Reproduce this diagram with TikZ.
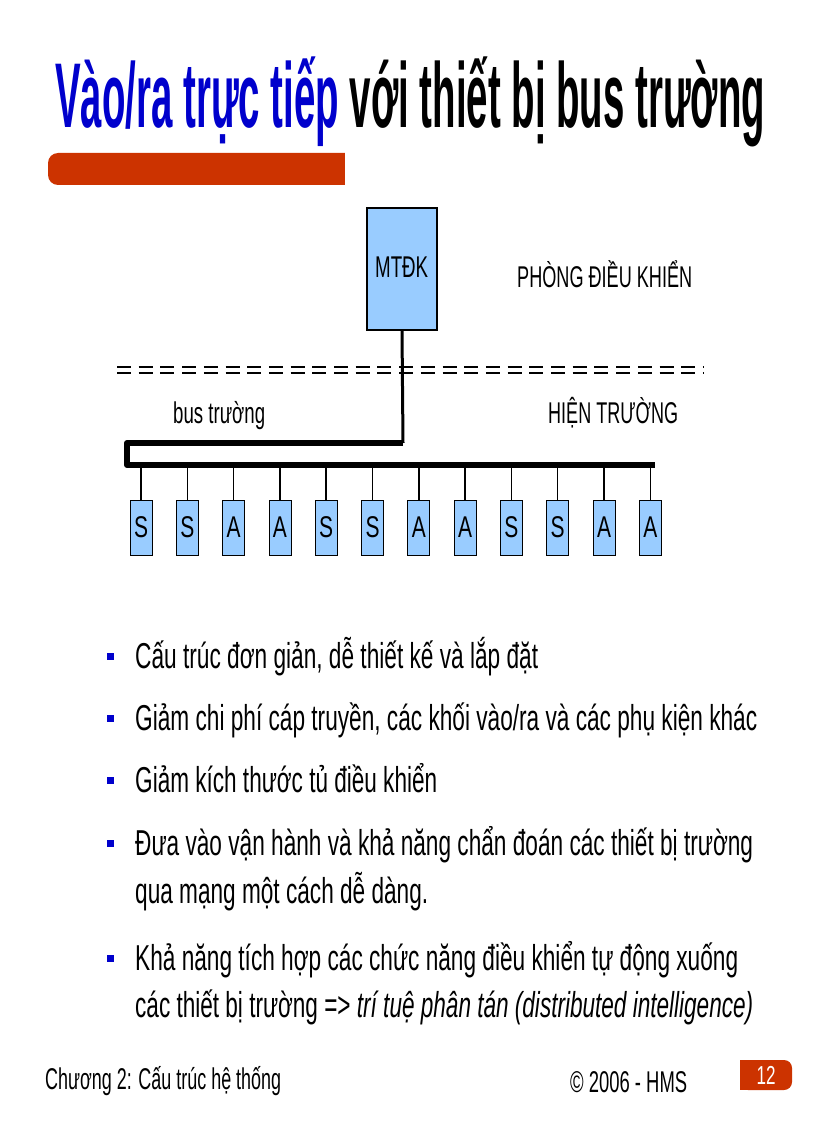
\documentclass[tikz,border=0pt]{standalone}
\usepackage{fontspec}
\setmainfont{Liberation Sans}
\definecolor{tblue}{RGB}{0,0,204}
\definecolor{bred}{RGB}{204,51,0}
\definecolor{lblue}{RGB}{153,204,255}
\newcommand{\fit}[2]{\resizebox{#1}{\height}{#2}}
\begin{document}
\begin{tikzpicture}[x=1pt,y=-1pt,
  lbl/.style={anchor=base west,inner sep=0pt,font=\fontsize{30}{30}\selectfont},
  bl/.style={anchor=base west,inner sep=0pt,font=\fontsize{36}{36}\selectfont},
  dev/.style={draw=black,fill=lblue,line width=0.8pt,minimum width=22pt,minimum height=55pt,inner sep=0pt},
  bul/.style={fill=tblue,minimum size=7pt,inner sep=0pt},
  stem/.style={line width=1.5pt}]
\useasboundingbox (0,0) rectangle (816,1123);
% title
\node[anchor=base west,inner sep=0pt] (title) at (55,128) {\fit{710pt}{\fontsize{92}{92}\selectfont\bfseries\color{tblue}Vào/ra trực tiếp \color{black}với thiết bị bus trường}};
% red bar
\fill[bred,rounded corners=10pt] (48,153) rectangle (360,185);
\fill[white] (345,150) rectangle (365,188);
% MTDK
\node[draw,fill=lblue,line width=1.5pt,minimum width=70pt,minimum height=122pt,inner sep=0pt] (mt) at (402,269) {};
\node[lbl] (mtl) at (375,277) {\fit{53pt}{MTĐK}};
\node[lbl] (p1) at (517,287) {\fit{175pt}{PHÒNG ĐIỀU KHIỂN}};
\node[lbl] (p2) at (173,423) {\fit{92pt}{bus trường}};
\node[lbl] (p3) at (548,423) {\fit{130pt}{HIỆN TRƯỜNG}};
% dashed lines
\draw[line width=2.4pt,dash pattern=on 14pt off 7.7pt] (117,367) -- (703,367);
\draw[line width=2.4pt,dash pattern=on 14pt off 7.7pt] (117,373) -- (703,373);
% bus
\coordinate (c1) at (403,443);
\coordinate (c2) at (127,443);
\coordinate (c3) at (127,465);
\coordinate (c4) at (655,465);
\draw[line width=3pt] (mt.south) -- (c1);
\draw[line width=6pt,line join=round] (c1) -- (c2) -- (c3) -- (c4);
\foreach \t [count=\i from 0] in {S,S,A,A,S,S,A,A,S,S,A,A}{
  \node[dev] (d\i) at (141+46.3*\i,527.5) {};
  \node[anchor=base,inner sep=0pt,font=\fontsize{30}{30}\selectfont] at (141+46.3*\i,537) {\fit{14pt}{\t}};
  \draw[stem] (141+46.3*\i,465) -- (d\i.north);
}
% bullets
\foreach \y [count=\i] in {656,718,780,843,958}{\node[bul] (b\i) at (110,\y) {};}
\node[bl] (t1) at (135,668) {\fit{403pt}{Cấu trúc đơn giản, dễ thiết kế và lắp đặt}};
\node[bl] (t2) at (135,730) {\fit{622pt}{Giảm chi phí cáp truyền, các khối vào/ra và các phụ kiện khác}};
\node[bl] (t3) at (135,792) {\fit{302pt}{Giảm kích thước tủ điều khiển}};
\node[bl] (t4) at (135,855) {\fit{618pt}{Đưa vào vận hành và khả năng chẩn đoán các thiết bị trường}};
\node[bl] (t5) at (135,903) {\fit{293pt}{qua mạng một cách dễ dàng.}};
\node[bl] (t6) at (135,970) {\fit{603pt}{Khả năng tích hợp các chức năng điều khiển tự động xuống}};
\node[bl] (t7) at (135,1017) {\fit{618pt}{các thiết bị trường => \itshape trí tuệ phân tán (distributed intelligence)}};
% footer
\node[lbl] (f1) at (45,1089) {\fit{236pt}{Chương 2: Cấu trúc hệ thống}};
\node[lbl] (f2) at (570,1092) {\fit{117pt}{© 2006 - HMS}};
\fill[bred,rounded corners=8pt] (740,1060) rectangle (792,1090);
\fill[bred] (740,1060) rectangle (760,1090);
\node[anchor=base,inner sep=0pt,text=white,font=\fontsize{26}{26}\selectfont] (pg) at (766,1084) {\fit{19pt}{12}};
\end{tikzpicture}
\end{document}
